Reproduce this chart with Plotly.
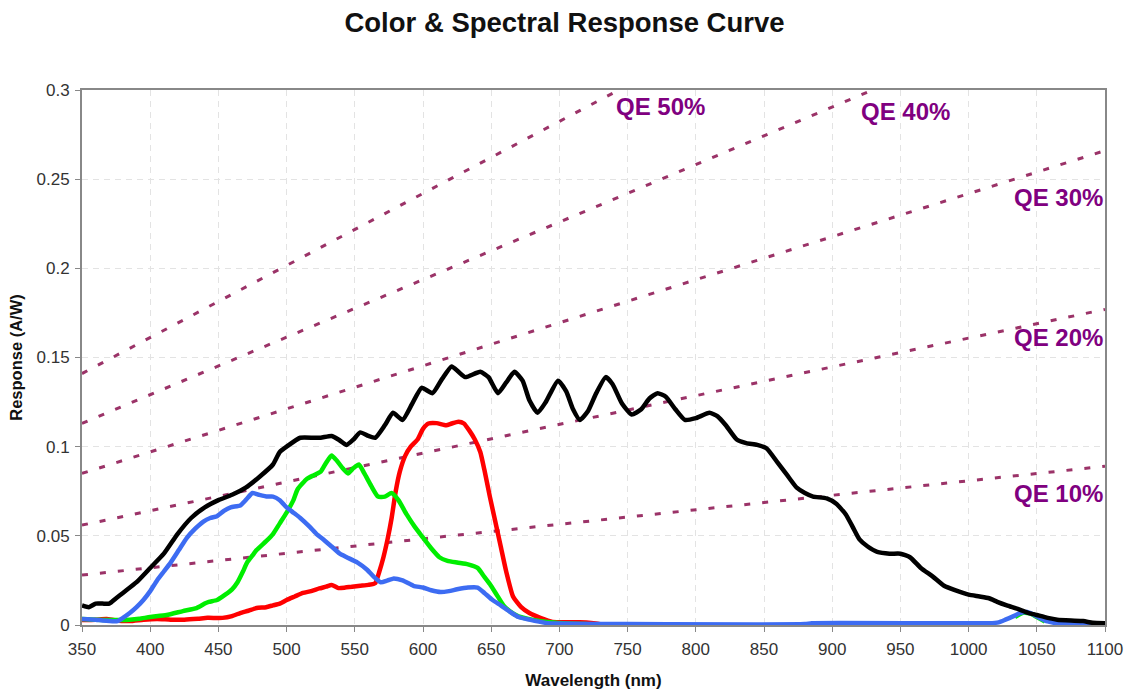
import plotly.graph_objects as go

# Wavelength (nm) and response (A/W) of each channel
mono_wl = [350, 355, 360, 365, 370, 375, 380, 390, 400, 410, 420, 430, 440, 450, 460, 470, 480, 490, 495,
           500, 510, 520, 525, 533, 538, 544, 549, 554, 560, 565, 572, 578, 585, 592, 599, 607, 614, 621,
           626, 631, 642, 648, 655, 661, 667, 673, 678, 684, 690, 699, 705, 710, 715, 721, 727, 734, 739,
           746, 753, 760, 766, 772, 778, 785, 792, 800, 810, 816, 822, 830, 837, 845, 852, 860, 867, 874,
           880, 886, 896, 903, 910, 915, 920, 926, 933, 942, 950, 957, 965, 974, 982, 990, 1000, 1008,
           1015, 1021, 1028, 1036, 1043, 1050, 1058, 1065, 1075, 1084, 1091, 1100]
mono_resp = [0.011, 0.010, 0.012, 0.012, 0.012, 0.015, 0.018, 0.024, 0.032, 0.040, 0.051, 0.060, 0.066,
             0.070, 0.073, 0.077, 0.083, 0.090, 0.097, 0.100, 0.105, 0.105, 0.105, 0.106, 0.104, 0.101,
             0.104, 0.108, 0.106, 0.105, 0.112, 0.119, 0.115, 0.124, 0.133, 0.130, 0.138, 0.145, 0.142,
             0.139, 0.142, 0.139, 0.130, 0.136, 0.142, 0.137, 0.126, 0.119, 0.125, 0.137, 0.131, 0.121,
             0.115, 0.120, 0.130, 0.139, 0.135, 0.124, 0.118, 0.121, 0.127, 0.130, 0.128, 0.121, 0.115,
             0.116, 0.119, 0.117, 0.112, 0.104, 0.102, 0.101, 0.099, 0.091, 0.084, 0.077, 0.074, 0.072,
             0.071, 0.068, 0.062, 0.055, 0.048, 0.044, 0.041, 0.040, 0.040, 0.038, 0.032, 0.027, 0.022,
             0.0195, 0.017, 0.016, 0.015, 0.013, 0.011, 0.009, 0.007, 0.0056, 0.004, 0.003, 0.0025,
             0.0022, 0.0012, 0.001]

blue_wl = [350, 360, 365, 376, 380, 385, 390, 395, 400, 405, 410, 415, 421, 427, 433, 439, 444, 449, 454,
           459, 466, 470, 475, 480, 486, 490, 495, 500, 505, 510, 517, 522, 527, 533, 539, 544, 552, 559,
           564, 569, 574, 578, 585, 593, 600, 606, 613, 619, 625, 633, 640, 645, 651, 657, 664, 670, 678,
           690, 700, 750, 880, 885, 1015, 1022, 1027, 1033, 1038, 1043, 1047, 1052, 1058, 1065, 1100]
blue_resp = [0.0034, 0.003, 0.0025, 0.0022, 0.004, 0.0067, 0.010, 0.014, 0.019, 0.025, 0.030, 0.035,
             0.042, 0.049, 0.054, 0.058, 0.060, 0.061, 0.064, 0.066, 0.067, 0.070, 0.074, 0.073, 0.072,
             0.072, 0.070, 0.066, 0.063, 0.060, 0.055, 0.051, 0.048, 0.044, 0.040, 0.038, 0.035, 0.031,
             0.027, 0.024, 0.025, 0.026, 0.025, 0.022, 0.021, 0.0195, 0.0185, 0.019, 0.020, 0.021, 0.021,
             0.018, 0.014, 0.011, 0.0073, 0.0045, 0.003, 0.0012, 0.0008, 0.0005, 0.0005, 0.001, 0.001,
             0.0015, 0.003, 0.005, 0.0068, 0.0073, 0.006, 0.004, 0.002, 0.001, 0.001]

# The green channel has no data between 720 nm and 1030 nm (None leaves a gap)
green_wl = [350, 360, 373, 385, 392, 400, 412, 424, 434, 440, 443, 449, 455, 460, 464, 468, 471, 475, 478,
            485, 490, 495, 500, 505, 508, 515, 520, 525, 529, 533, 537, 541, 545, 549, 553, 557, 562, 567,
            572, 577, 582, 588, 594, 600, 606, 612, 618, 625, 633, 640, 645, 649, 654, 659, 664, 670, 680,
            691, 703, 720, None, 1034, 1040, 1045, 1050, 1056]
green_resp = [0.0034, 0.003, 0.0028, 0.003, 0.0035, 0.0045, 0.0056, 0.0078, 0.0095, 0.012, 0.013, 0.014,
              0.017, 0.020, 0.024, 0.030, 0.035, 0.039, 0.042, 0.047, 0.051, 0.057, 0.063, 0.070, 0.076,
              0.082, 0.084, 0.086, 0.091, 0.095, 0.092, 0.088, 0.085, 0.088, 0.090, 0.085, 0.078, 0.072,
              0.072, 0.074, 0.070, 0.062, 0.055, 0.049, 0.043, 0.038, 0.036, 0.035, 0.034, 0.032, 0.027,
              0.023, 0.017, 0.011, 0.0075, 0.0048, 0.003, 0.0017, 0.001, 0.0005, None, 0.0045, 0.0068,
              0.0065, 0.0045, 0.002]

red_wl = [350, 360, 368, 375, 385, 395, 405, 415, 425, 435, 442, 453, 460, 466, 472, 478, 485, 490, 495,
          500, 506, 512, 518, 524, 529, 533, 538, 543, 548, 554, 560, 565, 568, 571, 574, 577, 580, 583,
          587, 591, 596, 600, 604, 610, 617, 621, 626, 630, 634, 638, 642, 645, 649, 653, 657, 661, 666,
          672, 678, 686, 695, 705, 715, 725, 730]
red_resp = [0.0028, 0.003, 0.0034, 0.0025, 0.0022, 0.003, 0.0034, 0.003, 0.003, 0.0035, 0.004, 0.004,
            0.005, 0.0067, 0.008, 0.0095, 0.010, 0.011, 0.012, 0.014, 0.016, 0.018, 0.019, 0.0205, 0.0215,
            0.0225, 0.0207, 0.021, 0.0215, 0.022, 0.0225, 0.0235, 0.030, 0.038, 0.048, 0.060, 0.075, 0.086,
            0.095, 0.100, 0.104, 0.110, 0.113, 0.1132, 0.112, 0.113, 0.114, 0.113, 0.109, 0.104, 0.097,
            0.087, 0.072, 0.058, 0.044, 0.030, 0.016, 0.010, 0.0067, 0.004, 0.0017, 0.0015, 0.0015, 0.001,
            0.0005]

# Constant quantum-efficiency reference lines: response at both ends of the range
qe_labels = ["QE 10%", "QE 20%", "QE 30%", "QE 40%", "QE 50%"]
qe_wl_ends = [350, 1100]
qe_resp_start = [0.028, 0.056, 0.085, 0.113, 0.141]
qe_resp_end = [0.089, 0.177, 0.266, 0.355, 0.444]
# Where each QE label sits (wavelength, response)
qe_label_wl = [1032, 1032, 1032, 920, 740]
qe_label_resp = [0.074, 0.161, 0.240, 0.288, 0.2905]

x_ticks = list(range(350, 1101, 50))
y_ticks = [0, 0.05, 0.1, 0.15, 0.2, 0.25, 0.3]
y_tick_text = ["0", "0.05", "0.1", "0.15", "0.2", "0.25", "0.3"]

FONT = "Liberation Sans, Arial, sans-serif"
QE_LINE = "#9b3368"
QE_TEXT = "#800080"

fig = go.Figure()

for start, end in zip(qe_resp_start, qe_resp_end):
    fig.add_trace(go.Scatter(
        x=qe_wl_ends, y=[start, end], mode="lines",
        line=dict(color=QE_LINE, width=3, dash="6px,12px"),
        hoverinfo="skip", showlegend=False))

curves = [
    (red_wl, red_resp, "#ff0000"),
    (green_wl, green_resp, "#00ee00"),
    (blue_wl, blue_resp, "#3d6cf2"),
    (mono_wl, mono_resp, "#000000"),
]
for wl, resp, color in curves:
    fig.add_trace(go.Scatter(
        x=wl, y=resp, mode="lines", connectgaps=False,
        line=dict(color=color, width=4.5, shape="spline", smoothing=0.5),
        showlegend=False))

for label, lx, ly in zip(qe_labels, qe_label_wl, qe_label_resp):
    fig.add_annotation(x=lx, y=ly, text=label, showarrow=False,
                       xanchor="left", yanchor="middle",
                       font=dict(family=FONT, size=24, color=QE_TEXT, weight="bold"))

fig.update_layout(
    width=1129, height=693,
    margin=dict(l=82, r=24, t=90, b=68),
    paper_bgcolor="white", plot_bgcolor="white",
    title=dict(text="<b>Color & Spectral Response Curve</b>", x=0.5, xanchor="center",
               y=1 - 22 / 693, yanchor="middle",
               font=dict(family=FONT, size=27.5, color="#111111")),
    xaxis=dict(
        range=[350, 1100], tickvals=x_ticks, showgrid=True, automargin=False,
        gridcolor="#e3e3e3", griddash="6px,5px", gridwidth=1,
        showline=True, mirror=True, linecolor="#888888", linewidth=2,
        ticks="outside", ticklen=5, tickcolor="#888888", ticklabelstandoff=3,
        tickfont=dict(family=FONT, size=17, color="#333333"),
        title=dict(text="<b>Wavelength (nm)</b>", standoff=16,
                   font=dict(family=FONT, size=17, color="#111111")),
        zeroline=False,
    ),
    yaxis=dict(
        range=[0, 0.3], tickvals=y_ticks, ticktext=y_tick_text, showgrid=True, automargin=False,
        gridcolor="#e3e3e3", griddash="6px,5px", gridwidth=1,
        showline=True, mirror=True, linecolor="#888888", linewidth=2,
        ticks="outside", ticklen=5, tickcolor="#888888", ticklabelstandoff=2,
        tickfont=dict(family=FONT, size=17, color="#333333"),
        title=dict(text="<b>Response (A/W)</b>", standoff=10,
                   font=dict(family=FONT, size=16.5, color="#111111")),
        zeroline=False,
    ),
)

fig.write_html("out.html")
